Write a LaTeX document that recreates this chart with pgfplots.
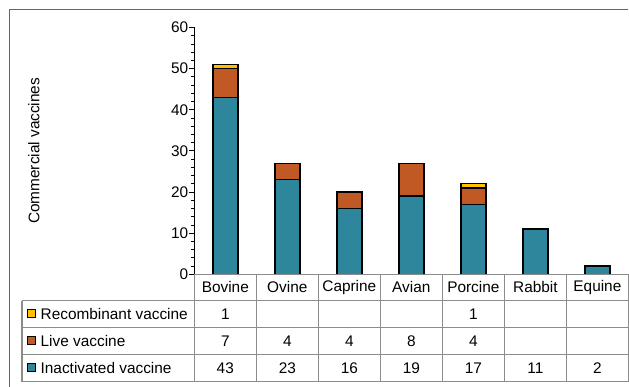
\documentclass[border=0pt]{standalone}
\usepackage{pgfplots}
\pgfplotsset{compat=1.18}
\usepackage{fontspec}
\setmainfont{Liberation Sans}
\definecolor{inact}{HTML}{2D869B}
\definecolor{live}{HTML}{C15925}
\definecolor{recomb}{HTML}{FFC000}
\newcommand\fs{\fontsize{15.4}{18}\selectfont}
\begin{document}
\begin{tikzpicture}
\begin{scope}[x=1pt,y=-1pt]
\useasboundingbox (0,0) rectangle (629,387);
\draw[black!60, line width=1pt] (10,387) -- (10,10) -- (629,10);
\node[rotate=90, font=\fs] at (34,151) {Commercial vaccines};
\end{scope}
\begin{axis}[at={(194.5pt,-274.5pt)}, anchor=origin, scale only axis,
  width=434.5pt, height=247pt, xmin=0, xmax=7, ymin=0, ymax=60,
  ybar stacked, bar width=25pt, hide x axis, axis y line=left,
  y axis line style={black, line width=1pt, -},
  ytick={0,10,...,60}, minor y tick num=4, tick align=outside,
  major tick length=5pt, minor tick length=3pt,
  every tick/.style={black, line width=0.8pt},
  yticklabel style={font=\fs, inner sep=1pt},
  /pgf/number format/assume math mode=true, clip=false]
\addplot[fill=inact, draw=black, line width=1.4pt] coordinates {(0.5,43) (1.5,23) (2.5,16) (3.5,19) (4.5,17) (5.5,11) (6.5,2)};
\addplot[fill=live, draw=black, line width=1.4pt] coordinates {(0.5,7) (1.5,4) (2.5,4) (3.5,8) (4.5,4) (5.5,0) (6.5,0)};
\addplot[fill=recomb, draw=black, line width=1.4pt] coordinates {(0.5,1) (1.5,0) (2.5,0) (3.5,0) (4.5,1) (5.5,0) (6.5,0)};
\end{axis}
\begin{scope}[x=1pt,y=-1pt]
\draw[black!45, line width=1.1pt] (194.5,274.5) -- (629,274.5);
\foreach \y in {301,328,355,382} \draw[black!45, line width=1.1pt] (22,\y) -- (629,\y);
\draw[black!45, line width=1.1pt] (22,301) -- (22,382);
\foreach \k in {0,...,7} \draw[black!45, line width=1.1pt] ({194.5+62.07*\k},274.5) -- ({194.5+62.07*\k},382);
\foreach \n [count=\i from 0] in {Bovine,Ovine,Caprine,Avian,Porcine,Rabbit,Equine}
  \node[font=\fs] at ({225.5+62.07*\i},287.5) {\n};
\foreach \v [count=\i from 0] in {1,,,,1,,}
  \node[font=\fs] at ({225.5+62.07*\i},314.5) {\v};
\foreach \v [count=\i from 0] in {7,4,4,8,4,,}
  \node[font=\fs] at ({225.5+62.07*\i},341.5) {\v};
\foreach \v [count=\i from 0] in {43,23,16,19,17,11,2}
  \node[font=\fs] at ({225.5+62.07*\i},368.5) {\v};
\draw[fill=recomb, draw=black, line width=0.8pt] (27.5,310) rectangle (35.5,318);
\draw[fill=live, draw=black, line width=0.8pt] (27.5,337) rectangle (35.5,345);
\draw[fill=inact, draw=black, line width=0.8pt] (27.5,364) rectangle (35.5,372);
\node[font=\fs, anchor=west, inner sep=0pt] at (40.5,314.5) {Recombinant vaccine};
\node[font=\fs, anchor=west, inner sep=0pt] at (40.5,341.5) {Live vaccine};
\node[font=\fs, anchor=west, inner sep=0pt] at (40.5,368.5) {Inactivated vaccine};
\end{scope}
\end{tikzpicture}
\end{document}
